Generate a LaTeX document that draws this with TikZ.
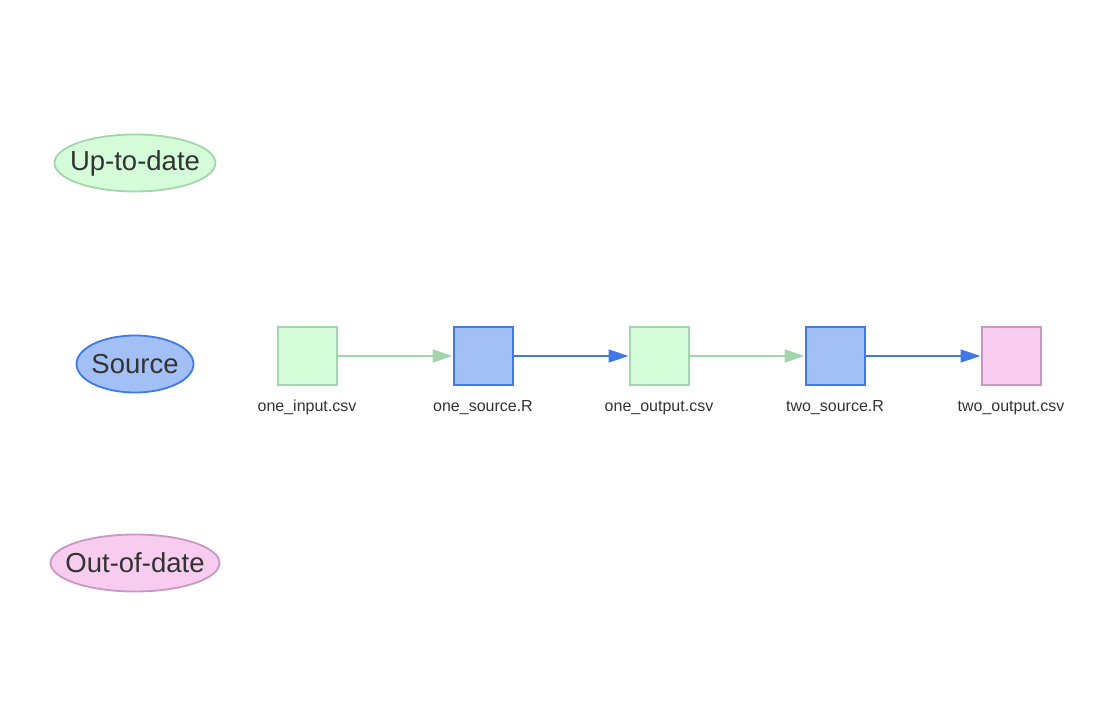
\documentclass[tikz,border=0pt]{standalone}
\usepackage{fontspec}
\setmainfont{Liberation Sans}
\usepackage{tikz}
\usetikzlibrary{arrows.meta,shapes.geometric}

\definecolor{okfill}{HTML}{D5FCD8}
\definecolor{okline}{HTML}{A3D4AC}
\definecolor{srcfill}{HTML}{A2C0F6}
\definecolor{srcline}{HTML}{3F79E6}
\definecolor{oodfill}{HTML}{F7CCEE}
\definecolor{oodline}{HTML}{C898C4}
\definecolor{txt}{HTML}{333333}

\begin{document}
\begin{tikzpicture}[x=1pt,y=-1pt,
        keynode/.style={ellipse,draw,line width=1.8pt,inner sep=0pt,minimum height=57pt,text=txt,font=\fontsize{27.5}{30}\selectfont},
        filebox/.style={rectangle,draw,line width=2pt,minimum width=59pt,minimum height=58pt,inner sep=0pt},
        uptodate/.style={fill=okfill,draw=okline},
        sourcefile/.style={fill=srcfill,draw=srcline},
        outdated/.style={fill=oodfill,draw=oodline},
        filelabel/.style={anchor=base,text=txt,font=\fontsize{16}{18}\selectfont},
        okedge/.style={draw=okline,line width=1.4pt,-{Triangle[length=20pt,width=13pt]}},
        srcedge/.style={draw=srcline,line width=1.4pt,-{Triangle[length=20pt,width=13pt]}}]
        \useasboundingbox (0,0) rectangle (1104,722);

        \node[keynode,uptodate,minimum width=161pt] at (135,163) (up) {\makebox[0pt]{\raisebox{-1.5pt}{Up-to-date}}};
        \node[keynode,sourcefile,minimum width=117pt] at (135,364) (src) {\makebox[0pt]{Source}};
        \node[keynode,outdated,minimum width=169pt] at (135,563) (ood) {\makebox[0pt]{Out-of-date}};

        \node[filebox,uptodate] at (307,356) (one-in) {};
        \node[filebox,sourcefile] at (483,356) (one-src) {};
        \node[filebox,uptodate] at (659,356) (one-out) {};
        \node[filebox,sourcefile] at (835,356) (two-src) {};
        \node[filebox,outdated] at (1011,356) (two-out) {};

        \node[filelabel] at (307,411) (lbl-one-in) {one\_input.csv};
        \node[filelabel] at (483,411) (lbl-one-src) {one\_source.R};
        \node[filelabel] at (659,411) (lbl-one-out) {one\_output.csv};
        \node[filelabel] at (835,411) (lbl-two-src) {two\_source.R};
        \node[filelabel] at (1011,411) (lbl-two-out) {two\_output.csv};

        \path
        (one-in) edge [okedge] (one-src)
        (one-src) edge [srcedge] (one-out)
        (one-out) edge [okedge] (two-src)
        (two-src) edge [srcedge] (two-out)
        ;
    \end{tikzpicture}
\end{document}
